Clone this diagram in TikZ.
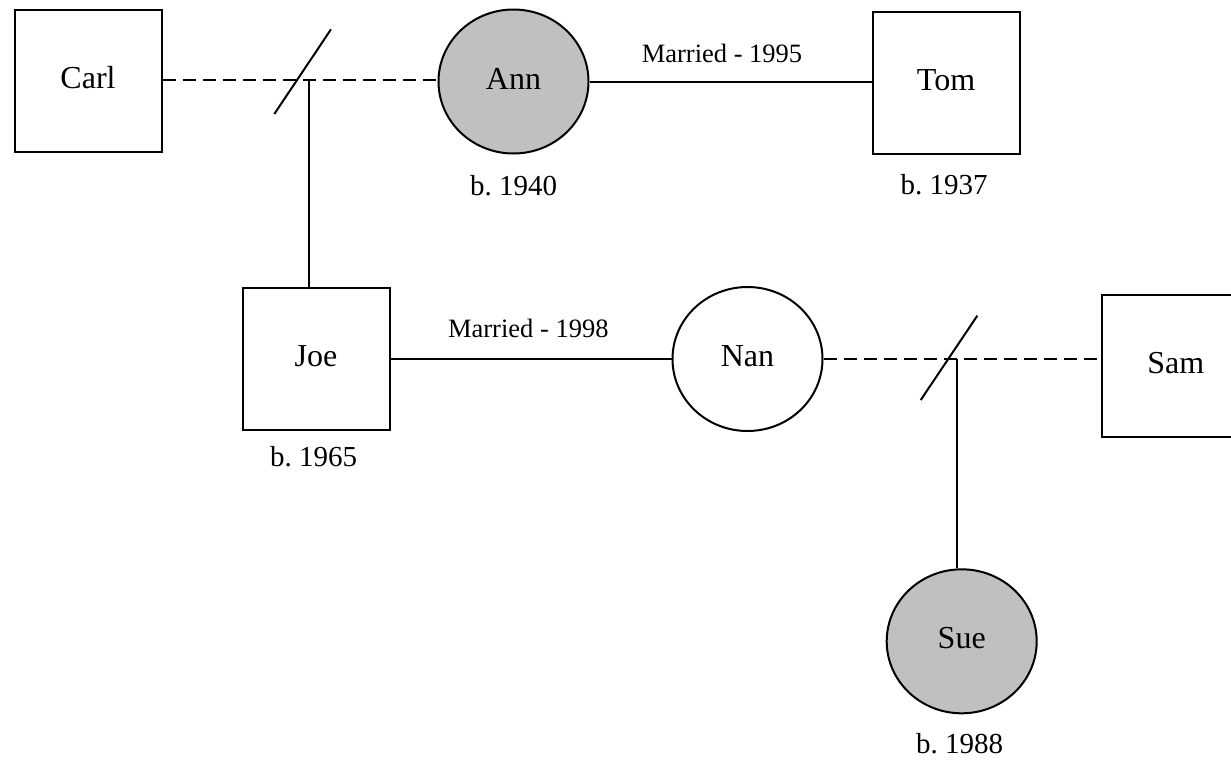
\documentclass[tikz,border=0pt]{standalone}
\usepackage{fontspec}
\setmainfont{Liberation Serif}
\usetikzlibrary{shapes.geometric}
\definecolor{fillgray}{RGB}{192,192,192}
\frenchspacing
\begin{document}
\begin{tikzpicture}[x=1pt,y=-1pt,
  every node/.style={inner sep=0pt},
  lw/.style={line width=2pt},
  person/.style={lw, draw=black, text height=20pt, text depth=5pt, font=\fontsize{32}{38}\selectfont},
  male/.style={person, rectangle, minimum width=147pt, minimum height=142pt},
  female/.style={person, ellipse, minimum width=150pt, minimum height=144pt},
  affected/.style={fill=fillgray},
  birth/.style={anchor=base, font=\fontsize{29}{34}\selectfont},
  marr/.style={anchor=base, font=\fontsize{26.5}{32}\selectfont},
  rel/.style={lw},
  sep/.style={lw, dash pattern=on 13pt off 7pt},
]
\useasboundingbox (0,0) rectangle (1231,761);

\node[male] (carl) at (88,80.5) {Carl};
\node[female, affected] (ann) at (513.5,81.5) {Ann};
\node[male] (tom) at (946,82.8) {Tom};
\node[male] (joe) at (316,358.7) {Joe};
\node[female] (nan) at (747.5,359) {Nan};
\node[male] (sam) at (1175.8,366.2) {Sam};
\node[female, affected] (sue) at (961.7,641.3) {Sue};

\coordinate (m1) at (309.3,80);
\coordinate (m2) at (956.7,359.3);

\draw[sep] (carl.east |- m1) -- (m1 -| ann.west);
\draw[rel] (ann.east) -- (ann.east -| tom.west);
\draw[rel] (m1) -- (m1 |- joe.north);
\draw[rel] ([shift={(-35,34)}]m1) -- ([shift={(21.7,-50.7)}]m1);
\draw[rel] (joe.east) -- (joe.east -| nan.west);
\draw[sep] (nan.east |- m2) -- (m2 -| sam.west);
\draw[rel] (m2) -- (m2 |- sue.north);
\draw[rel] ([shift={(-36,40.7)}]m2) -- ([shift={(20.6,-43.6)}]m2);

\node[marr] (m95) at (722,62.7) {Married - 1995};
\node[marr] (m98) at (528.3,337.3) {Married - 1998};
\node[birth] (bann) at (513.5,195) {b. 1940};
\node[birth] (btom) at (944,194) {b. 1937};
\node[birth] (bjoe) at (313.7,466.7) {b. 1965};
\node[birth] (bsue) at (959.7,753.3) {b. 1988};
\end{tikzpicture}
\end{document}
